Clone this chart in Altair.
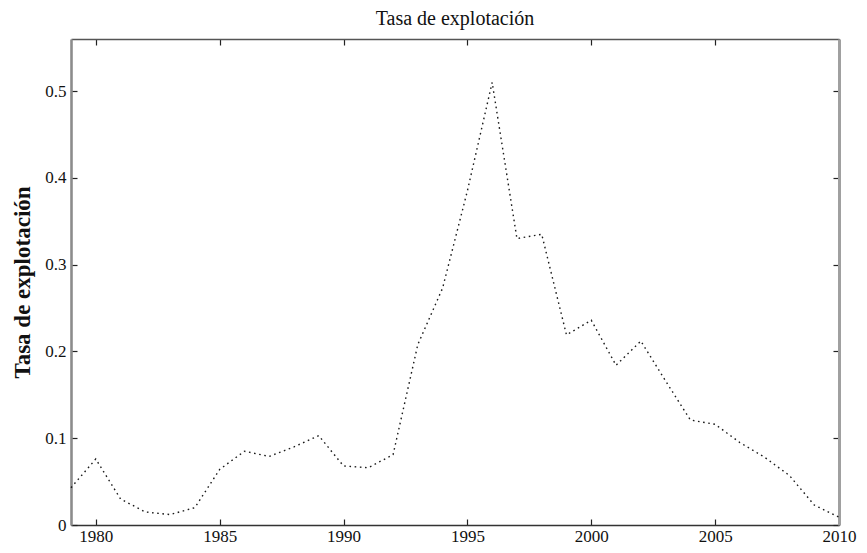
import altair as alt
import pandas as pd

# ---- data ----
years = list(range(1979, 2011))
rate = [0.043, 0.076, 0.030, 0.015, 0.012, 0.020, 0.064, 0.085, 0.079, 0.090,
        0.103, 0.068, 0.066, 0.081, 0.208, 0.273, 0.385, 0.510, 0.330, 0.335,
        0.219, 0.236, 0.184, 0.212, 0.166, 0.121, 0.116, 0.095, 0.078, 0.057,
        0.023, 0.009]
x_ticks = [1980, 1985, 1990, 1995, 2000, 2005, 2010]
y_ticks = [0, 0.1, 0.2, 0.3, 0.4, 0.5]
x_domain = [1979, 2010]
y_domain = [0, 0.56]
chart_title = "Tasa de explotación"
y_title = "Tasa de explotación"

df = pd.DataFrame({"year": years, "rate": rate})

FONT = "Liberation Serif"
TXT = "#111111"

xs = alt.Scale(domain=x_domain, nice=False, zero=False)
ys = alt.Scale(domain=y_domain, nice=False, zero=False)

base = alt.Chart(df)

# main line with bottom / left tick labels (ticks pointing inward)
main = base.mark_line(color="#1a1a1a", strokeWidth=1.4, strokeDash=[1.6, 3.6]).encode(
    x=alt.X("year:Q", scale=xs,
            axis=alt.Axis(orient="bottom", values=x_ticks, format="d", offset=-6,
                          tickSize=6, tickColor="#222222", tickWidth=1.2,
                          domain=False, grid=False, title=None, labelFlush=False,
                          labelFont=FONT, labelFontSize=17, labelColor=TXT,
                          labelPadding=3)),
    y=alt.Y("rate:Q", scale=ys,
            axis=alt.Axis(orient="left", values=y_ticks, format=".1~f", offset=-6,
                          tickSize=6, tickColor="#222222", tickWidth=1.2,
                          domain=False, grid=False, title=y_title, labelFlush=False,
                          titleFont=FONT, titleFontSize=23, titleFontWeight="bold",
                          titleColor=TXT, titlePadding=10,
                          labelFont=FONT, labelFontSize=17, labelColor=TXT,
                          labelPadding=5)),
)

# mirrored ticks on top / right
mirror = base.mark_line(opacity=0).encode(
    x=alt.X("year:Q", scale=xs,
            axis=alt.Axis(orient="top", values=x_ticks, offset=-6, tickSize=6,
                          tickColor="#222222", tickWidth=1.2, labels=False,
                          domain=False, grid=False, title=None)),
    y=alt.Y("rate:Q", scale=ys,
            axis=alt.Axis(orient="right", values=y_ticks, offset=-6, tickSize=6,
                          tickColor="#222222", tickWidth=1.2, labels=False,
                          domain=False, grid=False, title=None)),
)

# frame: bottom / left
frame1 = base.mark_line(opacity=0).encode(
    x=alt.X("year:Q", scale=xs,
            axis=alt.Axis(orient="bottom", ticks=False, labels=False, grid=False,
                          domain=True, domainColor="#333333", domainWidth=1.6,
                          title=None)),
    y=alt.Y("rate:Q", scale=ys,
            axis=alt.Axis(orient="left", ticks=False, labels=False, grid=False,
                          domain=True, domainColor="#8c8c8c", domainWidth=2.6,
                          title=None)),
)

# frame: top / right
frame2 = base.mark_line(opacity=0).encode(
    x=alt.X("year:Q", scale=xs,
            axis=alt.Axis(orient="top", ticks=False, labels=False, grid=False,
                          domain=True, domainColor="#555555", domainWidth=1.6,
                          title=None)),
    y=alt.Y("rate:Q", scale=ys,
            axis=alt.Axis(orient="right", ticks=False, labels=False, grid=False,
                          domain=True, domainColor="#a0a0a0", domainWidth=3,
                          title=None)),
)

chart = (
    alt.layer(main, mirror, frame1, frame2)
    .resolve_axis(x="independent", y="independent")
    .properties(
        width=768,
        height=486,
        title=alt.TitleParams(text=chart_title, font=FONT, fontSize=20,
                              fontWeight="normal", color=TXT, offset=9,
                              anchor="middle"),
        autosize=alt.AutoSizeParams(type="none"),
        padding={"left": 63, "top": 31, "right": 20, "bottom": 20},
        background="white",
    )
    .configure_view(stroke=None)
)

chart.save("out.html", embed_options={"renderer": "svg", "actions": False})
